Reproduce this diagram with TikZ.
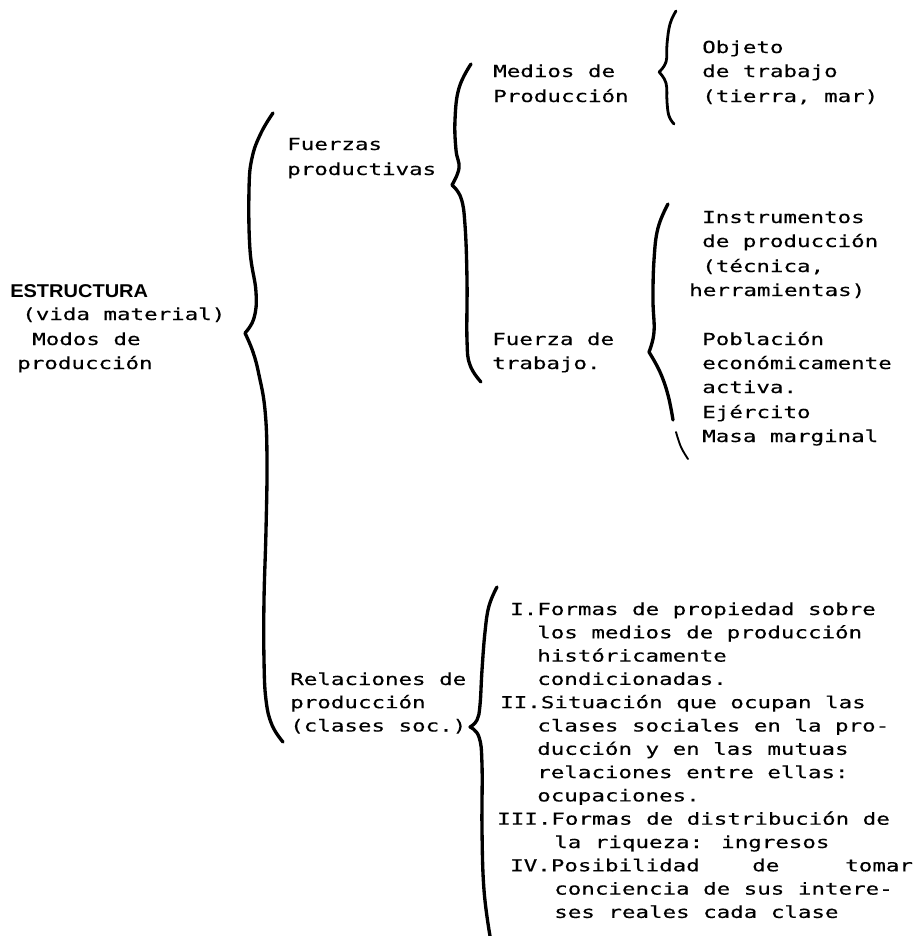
\documentclass[tikz,border=0pt]{standalone}
\usepackage{fontspec}
\newfontfamily\dotfont[FakeStretch=1.36,FakeBold=0.35]{DejaVu Sans Mono}
\newfontfamily\headfont[FakeStretch=1.08]{Liberation Sans}
\tikzset{
  txt/.style={font=\dotfont\fontsize{12.4pt}{15pt}\selectfont, anchor=base west, inner sep=0pt},
  head/.style={font=\headfont\bfseries\fontsize{13.9pt}{16pt}\selectfont, anchor=base west, inner sep=0pt},
  brace/.style={line width=2.5pt, line cap=round, line join=round},
  medbrace/.style={line width=2.1pt, line cap=round, line join=round},
  thinbrace/.style={line width=1.4pt, line cap=round, line join=round},
}
\begin{document}
\begin{tikzpicture}[x=0.75pt,y=-0.75pt]
\fill[white] (0,0) rectangle (914,936);
\useasboundingbox (0,0) rectangle (914,936);

% left block
\node[head] (estr) at (10,297) {ESTRUCTURA};
\node[txt] (vida) at (22,320) {(vida material)};
\node[txt] (modos) at (32,345) {Modos de};
\node[txt] (prodA) at (17,369) {producción};

% second column
\node[txt] (fz1) at (287,150) {Fuerzas};
\node[txt] (fz2) at (287,175) {productivas};
\node[txt] (rel1) at (290,685) {Relaciones de};
\node[txt] (rel2) at (290,708.2) {producción};
\node[txt] (rel3) at (290,731.5) {(clases soc.)};

% third column
\node[txt] (md1) at (493,77) {Medios de};
\node[txt] (md2) at (493,102) {Producción};
\node[txt] (ft1) at (492,345) {Fuerza de};
\node[txt] (ft2) at (492,369) {trabajo.};

% fourth column upper
\node[txt] (ob1) at (702,53) {Objeto};
\node[txt] (ob2) at (702,77) {de trabajo};
\node[txt] (ob3) at (702,102) {(tierra, mar)};
\node[txt] (in1) at (702,223) {Instrumentos};
\node[txt] (in2) at (702,247) {de producción};
\node[txt] (in3) at (702,272) {(técnica,};
\node[txt] (in4) at (689,296) {herramientas)};
\node[txt] (po1) at (702,345) {Población};
\node[txt] (po2) at (702,369) {económicamente};
\node[txt] (po3) at (702,393) {activa.};
\node[txt] (po4) at (702,418) {Ejército};
\node[txt] (po5) at (702,442) {Masa marginal};

% lower list
\node[txt] (l0) at (510,615) {I.Formas de propiedad sobre};
\node[txt] (l1) at (537,638.3) {los medios de producción};
\node[txt] (l2) at (537,661.6) {históricamente};
\node[txt] (l3) at (537,684.9) {condicionadas.};
\node[txt] (l4) at (500,708.2) {II.Situación que ocupan las};
\node[txt] (l5) at (537,731.5) {clases sociales en la pro-};
\node[txt] (l6) at (537,754.8) {ducción y en las mutuas};
\node[txt] (l7) at (537,778.1) {relaciones entre ellas:};
\node[txt] (l8) at (537,801.4) {ocupaciones.};
\node[txt] (l9) at (497,824.7) {III.Formas de distribución de};
\node[txt] (l10) at (554,848) {la riqueza: ingresos};
\node[txt] (l11a) at (510,871.3) {IV.Posibilidad};
\node[txt] (l11b) at (752,871.3) {de};
\node[txt] (l11c) at (845,871.3) {tomar};
\node[txt] (l12) at (554,894.6) {conciencia de sus intere-};
\node[txt] (l13) at (554,917.9) {ses reales cada clase};

% brace: Objeto de trabajo
\draw[medbrace] plot[smooth,tension=0.7] coordinates {(676,11) (670,24) (667,44) (666,62) (659,72)};
\draw[medbrace] plot[smooth,tension=0.7] coordinates {(659,72) (666,83) (667,102) (669,116) (674,124)};

% brace: Medios / Fuerza de trabajo
\draw[brace] plot[smooth,tension=0.7] coordinates {(471,64) (459,88) (455,120) (456,150) (459,168) (452,185)};
\draw[brace] plot[smooth,tension=0.7] coordinates {(452,185) (461,198) (465,225) (467,280) (467,340) (470,365) (481,382)};

% brace: Instrumentos ... Masa marginal
\draw[brace] plot[smooth,tension=0.7] coordinates {(668,204) (658,228) (654,260) (653,300) (654,332) (649,352)};
\draw[brace] plot[smooth,tension=0.7] coordinates {(649,352) (660,372) (668,395) (673,420)};
\draw[thinbrace] plot[smooth,tension=0.7] coordinates {(676,432) (681,447) (688,459)};

% main brace
\draw[brace] plot[smooth,tension=0.7] coordinates {(273,113) (261,133) (252,158) (249,190) (250,250) (256,292) (254,318) (245,333)};
\draw[brace] plot[smooth,tension=0.7] coordinates {(245,333) (253,352) (259,375) (265,410) (267,460) (266,530) (264,600) (264,660) (266,700) (272,725) (283,742)};

% brace: Relaciones de produccion
\draw[brace] plot[smooth,tension=0.7] coordinates {(497,587) (489,606) (485,632) (482,670) (480,705) (477,720) (470,727)};
\draw[brace] plot[smooth,tension=0.7] coordinates {(470,727) (479,737) (482,765) (482,830) (484,890) (490,936)};
\end{tikzpicture}
\end{document}
